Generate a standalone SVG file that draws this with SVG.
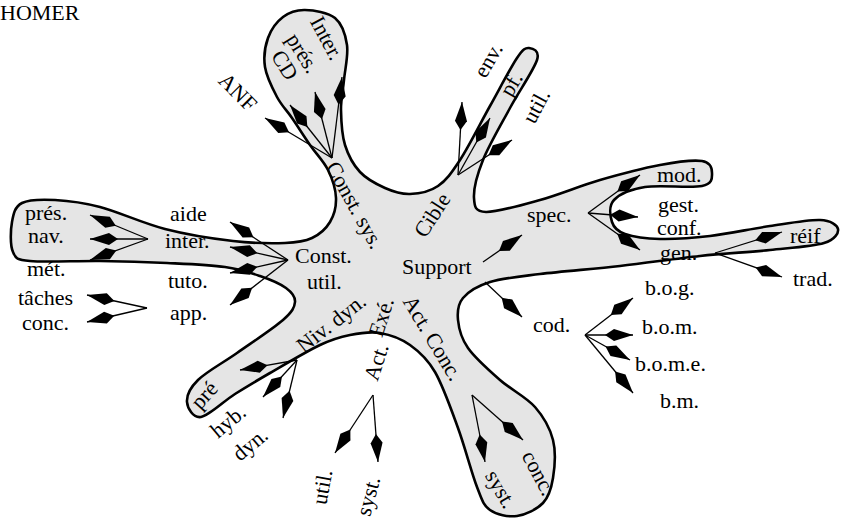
<svg xmlns="http://www.w3.org/2000/svg" width="841" height="521" viewBox="0 0 841 521">
<style>
text{font-family:"Liberation Serif","Times New Roman",serif;font-size:22px;fill:#000}
.r{text-anchor:middle;dominant-baseline:central}
.c line{stroke:#000;stroke-width:1.3;marker-end:url(#k)}
</style>
<defs>
<marker id="k" markerUnits="userSpaceOnUse" markerWidth="30" markerHeight="14" viewBox="0 -7 30 14" refX="28" refY="0" orient="auto" overflow="visible">
<path d="M0,0 L9,-6 L28,0 L9,6 Z" fill="#000"/>
</marker>
</defs>
<rect width="841" height="521" fill="#fff"/>
<g id="blob">
<path fill="#e5e5e5" stroke="#000" stroke-width="2.6" d="M305,10 C313.7,10.2 328,12.2 335,18 S345.5,34.7 347,45 S345,69.2 344,80 S340.8,99.2 341,110 S341.8,134.7 345,145 S353.3,164.8 360,172 S376.7,184.3 385,188 S401.2,194.3 410,194 S429.7,191.7 438,186 S451.3,173.3 460,160 S480.5,123 490,106 S510.5,67.7 517,58 S525.7,47.7 529,48 S540.2,50 537,60 S519,91.3 510,108 S489,145 483,160 S473.5,189.3 474,198 S475,211.7 486,212 S521,205.3 540,200 S580,185.8 600,180 S643,168.2 660,165 S693.3,159.7 702,161 S712,168.8 712,173 S713.2,183.7 702,186 S659.7,184.7 645,187 S619.5,194.2 614,200 S610.2,216.3 612,222 S617,231.2 625,234 S645.8,238.7 660,239 S691.7,238.2 710,236 S751.7,228.7 770,226 S808.7,219.5 820,220 S837.3,225.2 838,229 S835.3,239.5 824,243 S790.7,247.8 770,250 S725,253.3 700,256 S646.7,263 620,266 S561.7,271.3 540,274 S502.8,278 490,282 S468.3,291.7 463,298 S457.2,311.7 458,320 S461,338 468,348 S488.8,370.2 500,380 S526.2,397 535,407 S550,428.2 553,440 S554.7,467.5 553,478 S549,496.7 543,503 S525.8,514.8 517,516 S496.7,514.8 490,510 S482.3,500.7 477,487 S465,447.2 458,428 S443,385.8 435,372 S419.2,351.5 410,345 S390,334.7 380,333 S360,333 350,335 S333.3,338.7 320,345 S284.2,364.8 270,373 S246.5,386.7 235,394 S209,415.7 201,417 S187.5,408.2 187,402 S189.7,388.2 198,380 S222.8,363 237,353 S273.3,328.5 283,320 S294.5,307.3 295,302 S291.8,292.3 286,288 S270.2,279.5 260,276 S240.5,269.2 225,267 S187.8,264 167,263 S122.8,261.3 100,261 S44.5,262.5 30,261 S16,258.5 13,252 S10.5,230.2 12,222 S14.8,206.7 22,203 S42,199.3 55,200 S81.7,202.2 100,207 S142.8,223.3 165,229 S213,238.7 233,241 S271.8,243.5 285,243 S304.5,241.5 312,238 S326,228.7 330,222 S336.3,206.7 336,198 S332.3,178.8 328,170 S316,153.7 310,145 S297.5,126 292,118 S281.5,105.5 277,97 S266.5,76.8 265,67 S265,46.3 268,38 S276.8,21.7 283,17 S296.3,9.8 305,10 Z"/>
</g>
<g id="connectors" class="c">
<line x1="332" y1="158" x2="265" y2="118"/>
<line x1="332" y1="158" x2="290" y2="105"/>
<line x1="332" y1="158" x2="315" y2="92"/>
<line x1="332" y1="158" x2="342" y2="77"/>
<line x1="458" y1="175" x2="462" y2="102"/>
<line x1="458" y1="175" x2="490" y2="118"/>
<line x1="458" y1="175" x2="512" y2="140"/>
<line x1="588" y1="213" x2="640" y2="175"/>
<line x1="588" y1="213" x2="638" y2="217"/>
<line x1="588" y1="213" x2="640" y2="250"/>
<line x1="715" y1="253" x2="782" y2="232"/>
<line x1="715" y1="253" x2="782" y2="277"/>
<line x1="483" y1="262" x2="522" y2="235"/>
<line x1="485" y1="282" x2="522" y2="317"/>
<line x1="585" y1="335" x2="633" y2="298"/>
<line x1="585" y1="335" x2="633" y2="335"/>
<line x1="585" y1="335" x2="630" y2="360"/>
<line x1="585" y1="335" x2="633" y2="393"/>
<line x1="472" y1="395" x2="485" y2="462"/>
<line x1="472" y1="395" x2="523" y2="440"/>
<line x1="373" y1="395" x2="335" y2="453"/>
<line x1="373" y1="395" x2="378" y2="462"/>
<line x1="297" y1="360" x2="240" y2="370"/>
<line x1="297" y1="360" x2="263" y2="397"/>
<line x1="297" y1="360" x2="283" y2="418"/>
<line x1="288" y1="260" x2="230" y2="222"/>
<line x1="288" y1="260" x2="230" y2="247"/>
<line x1="288" y1="260" x2="230" y2="273"/>
<line x1="288" y1="260" x2="230" y2="305"/>
<line x1="148" y1="239" x2="90" y2="215"/>
<line x1="148" y1="239" x2="90" y2="239"/>
<line x1="148" y1="239" x2="90" y2="260"/>
<line x1="147" y1="308" x2="87" y2="295"/>
<line x1="147" y1="308" x2="87" y2="322"/>
</g>
<g id="title"><text x="0" y="20">HOMER</text></g>
<g id="n-inter-top"><text class="r" transform="translate(327,38) rotate(62)">Inter.</text></g>
<g id="n-pres-top"><text class="r" transform="translate(303,53) rotate(58)">prés.</text></g>
<g id="n-cd"><text class="r" transform="translate(285,65) rotate(58)">CD</text></g>
<g id="n-anf"><text class="r" transform="translate(238,92) rotate(45)">ANF</text></g>
<g id="n-constsys"><text class="r" transform="translate(355,205) rotate(61)">Const. sys.</text></g>
<g id="n-cible"><text class="r" transform="translate(432,215) rotate(-57)">Cible</text></g>
<g id="n-env"><text class="r" transform="translate(488,60) rotate(-60)">env.</text></g>
<g id="n-pf"><text class="r" transform="translate(511,84) rotate(-60)">pf.</text></g>
<g id="n-util-top"><text class="r" transform="translate(536,106) rotate(-62)">util.</text></g>
<g id="n-support"><text x="402" y="274">Support</text></g>
<g id="n-spec"><text x="527" y="222">spec.</text></g>
<g id="n-mod"><text x="657" y="182">mod.</text></g>
<g id="n-gestconf"><text x="658" y="212">gest.</text><text x="657" y="235">conf.</text></g>
<g id="n-gen"><text x="660" y="260">gen.</text></g>
<g id="n-reif"><text x="790" y="243">réif</text></g>
<g id="n-trad"><text x="793" y="286">trad.</text></g>
<g id="n-cod"><text x="533" y="332">cod.</text></g>
<g id="n-bog"><text x="645" y="295">b.o.g.</text></g>
<g id="n-bom"><text x="642" y="334">b.o.m.</text></g>
<g id="n-bome"><text x="635" y="371">b.o.m.e.</text></g>
<g id="n-bm"><text x="660" y="408">b.m.</text></g>
<g id="n-actconc"><text class="r" transform="translate(433,338) rotate(59)">Act. Conc.</text></g>
<g id="n-syst-r"><text class="r" transform="translate(501,489) rotate(60)">syst.</text></g>
<g id="n-conc-r"><text class="r" transform="translate(539,473) rotate(62)">conc.</text></g>
<g id="n-exe"><text class="r" transform="translate(381,317) rotate(-72)">Exé.</text></g>
<g id="n-act"><text class="r" transform="translate(376,362) rotate(-72)">Act.</text></g>
<g id="n-util-b"><text class="r" transform="translate(322,487) rotate(-80)">util.</text></g>
<g id="n-syst-b"><text class="r" transform="translate(368,496) rotate(-75)">syst.</text></g>
<g id="n-nivdyn"><text class="r" transform="translate(331,323) rotate(-38)">Niv. dyn.</text></g>
<g id="n-pre"><text class="r" transform="translate(204,395) rotate(-48)">pré</text></g>
<g id="n-hyb"><text class="r" transform="translate(228,421) rotate(-40)">hyb.</text></g>
<g id="n-dyn"><text class="r" transform="translate(250,444) rotate(-40)">dyn.</text></g>
<g id="n-constutil"><text x="295" y="263">Const.</text><text x="307" y="289">util.</text></g>
<g id="n-aide"><text x="170" y="221">aide</text></g>
<g id="n-inter"><text x="165" y="248">inter.</text></g>
<g id="n-tuto"><text x="168" y="288">tuto.</text></g>
<g id="n-app"><text x="170" y="320">app.</text></g>
<g id="n-pres"><text x="25" y="220">prés.</text></g>
<g id="n-nav"><text x="28" y="243">nav.</text></g>
<g id="n-met"><text x="27" y="276">mét.</text></g>
<g id="n-taches"><text x="18" y="305">tâches</text></g>
<g id="n-conc"><text x="22" y="330">conc.</text></g>
</svg>
